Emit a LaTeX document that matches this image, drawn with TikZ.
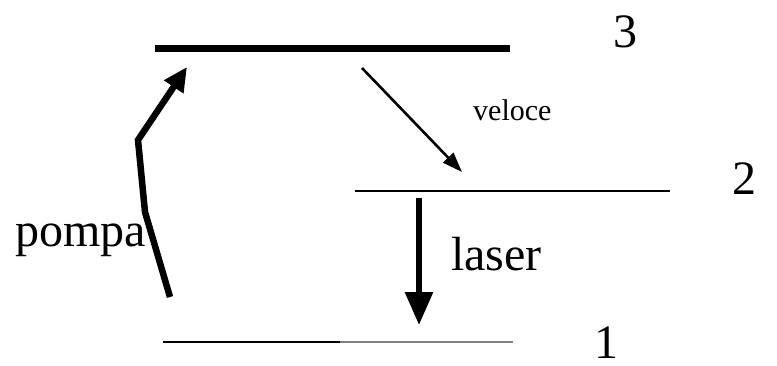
\documentclass[tikz,border=0pt]{standalone}
\usepackage{fontspec}
\setmainfont{Liberation Serif}
\usetikzlibrary{arrows.meta}
\tikzset{
  lvl/.style={line width=2pt},
  big/.style={font=\fontsize{48}{48}\selectfont, inner sep=0pt},
  small/.style={font=\fontsize{30}{30}\selectfont, inner sep=0pt},
  arr/.style={-{Triangle[length=33pt,width=27pt]}, line width=6pt},
}
\begin{document}
\begin{tikzpicture}[x=1pt,y=-1pt]
\useasboundingbox (0,0) rectangle (777,365);
% levels
\coordinate (l3a) at (155,48);  \coordinate (l3b) at (510,48);
\coordinate (l2a) at (355,191); \coordinate (l2b) at (670,191);
\coordinate (l1a) at (163,342); \coordinate (l1m) at (340,342); \coordinate (l1b) at (513,342);
\draw[line width=7pt] (l3a) -- (l3b);
\draw[lvl] (l2a) -- (l2b);
\draw[lvl] (l1a) -- (l1m);
\draw[lvl, gray] (l1m) -- (l1b);
% labels
\node[big] (n3) at (625,32) {3};
\node[big] (n2) at (744,179) {2};
\node[big] (n1) at (606,343) {1};
\node[big, anchor=east] (pompa) at (146,240) {pompa};
\node[big, anchor=west] (laser) at (451,254) {laser};
\node[small, anchor=west] (veloce) at (473,110) {veloce};
% arrows
\coordinate (p0) at (170,297);
\coordinate (p1) at (145,212);
\coordinate (p2) at (138,140);
\coordinate (p3) at (187,67);
\draw[-{Triangle[length=24pt,width=22pt]}, line width=6.5pt, line join=miter] (p0) -- (p1) -- (p2) -- (p3);
\coordinate (v0) at (362,68);
\coordinate (v1) at (462,172);
\draw[-{Triangle[length=20pt,width=14pt]}, line width=2.6pt] (v0) -- (v1);
\coordinate (s0) at (419,198);
\coordinate (s1) at (419,325);
\draw[arr] (s0) -- (s1);
\end{tikzpicture}
\end{document}
